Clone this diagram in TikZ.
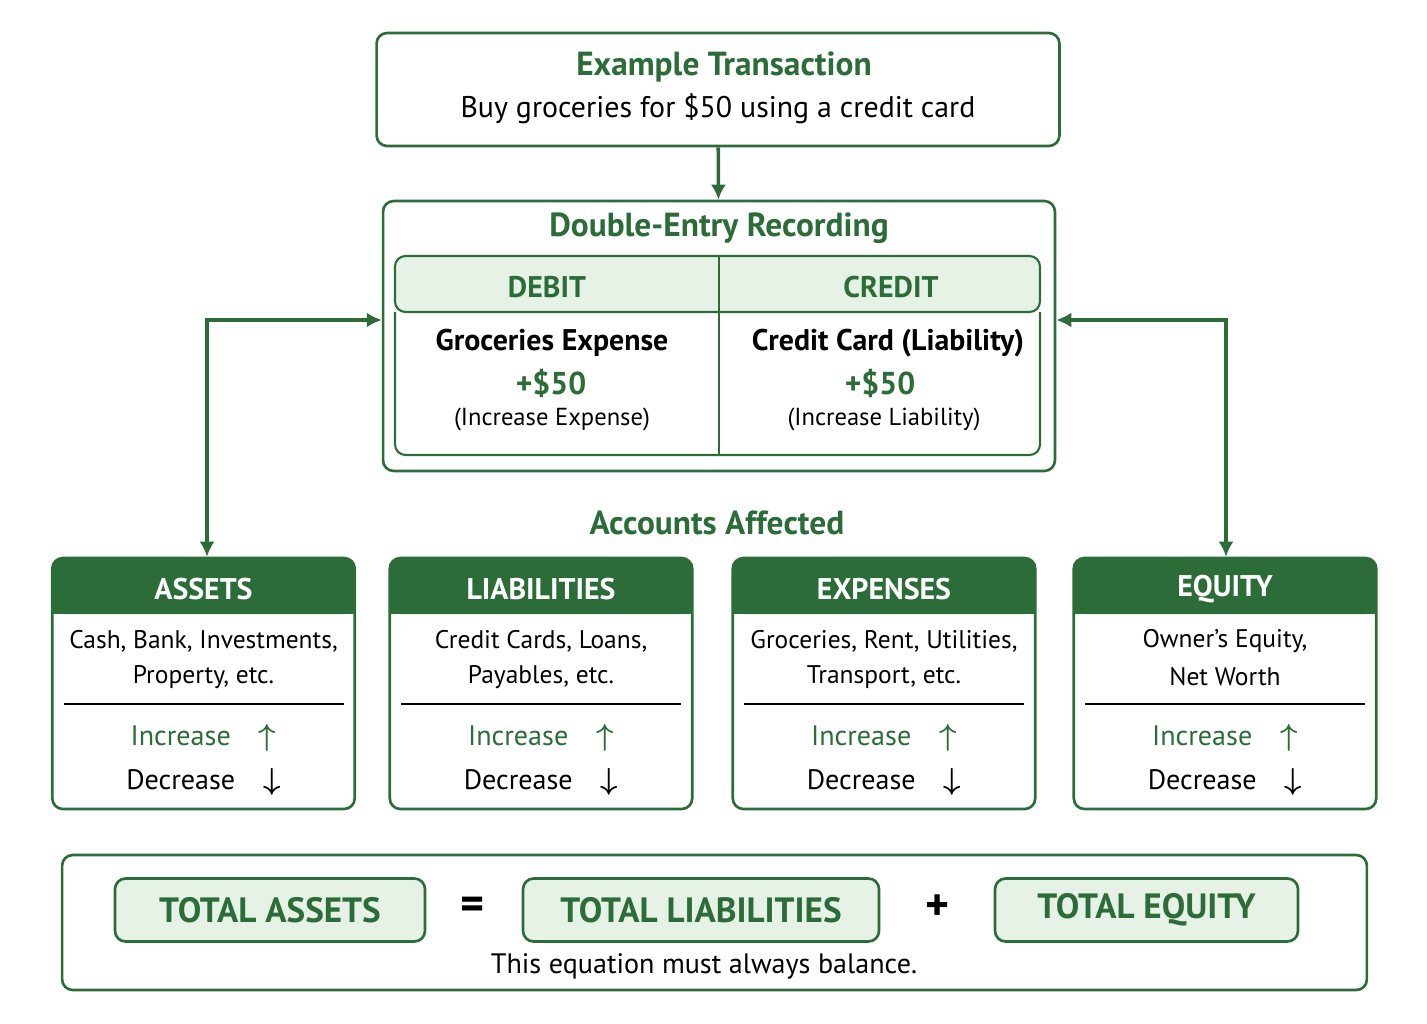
\documentclass[tikz,border=0pt]{standalone}
\usepackage{amsmath}
\usepackage{amssymb}
\usepackage{fontspec}
\setmainfont{PT Sans}
\usetikzlibrary{positioning,arrows.meta}
\definecolor{dkgreen}{RGB}{44,108,56}
\definecolor{ltgreen}{RGB}{230,242,230}
\tikzset{>={Latex[width=3mm,length=3mm]},
  box/.style={draw=dkgreen,line width=1.5pt,rounded corners=6pt},
  card/.style={box,minimum width=6.05cm,minimum height=5.02cm,inner sep=0pt},
  desc/.style={font=\fontsize{14.5}{17}\selectfont},
  pill/.style={box,fill=ltgreen,minimum height=1.26cm,font=\fontsize{20}{24}\selectfont\bfseries,text=dkgreen},
  flow/.style={dkgreen,line width=2pt}}
\begin{document}
\begin{tikzpicture}[x=0.02cm,y=-0.02cm]
\useasboundingbox (0,0) rectangle (1427,1024);
% transaction
\node(T) [box,minimum width=13.66cm,minimum height=2.26cm] at (718,89.5) {};
\node(Ttitle) at (724,67) {\fontsize{19}{22}\selectfont\bfseries\color{dkgreen}Example Transaction};
\node(Ttext) at (718,109) {\fontsize{17}{20}\selectfont Buy groceries for \$50 using a credit card};
% recording
\node(R) [box,minimum width=13.44cm,minimum height=5.4cm] at (719,336) {};
\draw[flow,->] (T) -- (R);
\node(Rtitle) at (719,228) {\fontsize{19}{22}\selectfont\bfseries\color{dkgreen}Double-Entry Recording};
\draw[dkgreen,line width=1.2pt,fill=ltgreen,rounded corners=6pt] (395,312) -- (395,256) -- (1040,256) -- (1040,312) -- cycle;
\draw[dkgreen,line width=1.2pt,rounded corners=6pt] (395,312) -- (395,455) -- (1040,455) -- (1040,312);
\draw[dkgreen,line width=1.2pt] (719,256) -- (719,455);
\node(Dh) at (547,287) {\fontsize{17}{20}\selectfont\bfseries\color{dkgreen}DEBIT};
\node(Ch) at (891,287) {\fontsize{17}{20}\selectfont\bfseries\color{dkgreen}CREDIT};
\node(D1) at (552,343) {\fontsize{17}{20}\selectfont\bfseries Groceries Expense};
\node(D2) at (551,383) {\fontsize{18}{20}\selectfont\bfseries\color{dkgreen}+\$50};
\node(D3) at (552,419) {\fontsize{14}{17}\selectfont (Increase Expense)};
\node(C1) at (888,343) {\fontsize{17}{20}\selectfont\bfseries Credit Card (Liability)};
\node(C2) at (880,383) {\fontsize{18}{20}\selectfont\bfseries\color{dkgreen}+\$50};
\node(C3) at (884,419) {\fontsize{14}{17}\selectfont (Increase Liability)};
\node(A) at (717,523) {\fontsize{19}{22}\selectfont\bfseries\color{dkgreen}Accounts Affected};
% cards
\foreach \n/\x/\t/\a/\b in {a/203.5/ASSETS/{Cash, Bank, Investments,}/{Property, etc.},
  l/541/LIABILITIES/{Credit Cards, Loans,}/{Payables, etc.},
  x/884/EXPENSES/{Groceries, Rent, Utilities,}/{Transport, etc.},
  q/1225/EQUITY/{Owner’s Equity,}/{Net Worth}}{
  \node(\n) [card] at (\x,683.5) {};
  \fill[dkgreen,rounded corners=6pt] (\x-151,558) rectangle (\x+151,614);
  \fill[dkgreen] (\x-151,590) rectangle (\x+151,614);
  \node(\n h) [text=white,font=\fontsize{17}{20}\selectfont\bfseries] at (\x,589) {\t};
  \node(\n1) [desc] at (\x,641) {\a};
  \node(\n2) [desc] at (\x,677) {\b};
  \draw[line width=1pt] (\x-140,704) -- (\x+140,704);
  \node(\n i) [font=\fontsize{16}{19}\selectfont] at (\x,738) {\color{dkgreen}Increase\quad$\boldsymbol{\uparrow}$};
  \node(\n d) [font=\fontsize{16}{19}\selectfont] at (\x,782) {Decrease\quad$\boldsymbol{\downarrow}$};
}
\coordinate(Lc) at (207,320);
\coordinate(Rc) at (1226,320);
\draw[flow,<->] (R.west|-Lc) -- (Lc) -- (a.north-|Lc);
\draw[flow,<->] (R.east|-Rc) -- (Rc) -- (q.north-|Rc);
% equation
\node(E) [box,minimum width=26.1cm,minimum height=2.7cm] at (714.5,922.5) {};
\node(P1) [pill,minimum width=6.2cm] at (270,910) {TOTAL ASSETS};
\node(P2) [pill,minimum width=7.12cm] at (701,910) {TOTAL LIABILITIES};
\node(P3) [pill,minimum width=6.06cm] at (1146.5,910) {TOTAL EQUITY};
\node(eq) at (473,908) {\fontsize{26}{28}\selectfont\bfseries =};
\node(pl) at (938,908) {\fontsize{26}{28}\selectfont\bfseries +};
\node(note) at (704,966) {\fontsize{16}{19}\selectfont This equation must always balance.};
\end{tikzpicture}
\end{document}
